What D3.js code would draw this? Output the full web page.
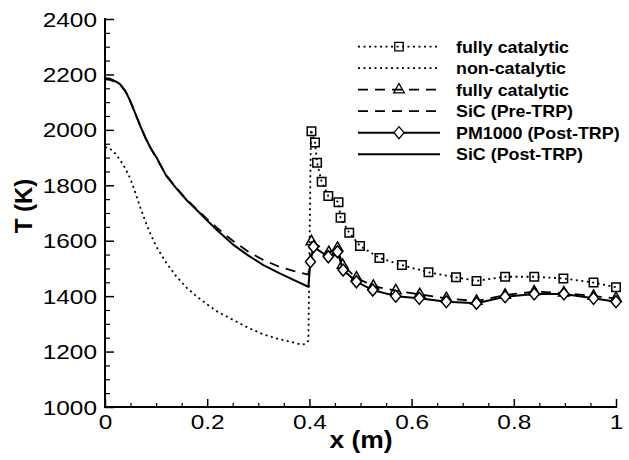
<!DOCTYPE html>
<html><head><meta charset="utf-8">
<script src="https://cdn.jsdelivr.net/npm/d3@7"></script>
<style>body{margin:0;background:#fff}text{font-family:"Liberation Sans",Arial,Helvetica,sans-serif}</style>
</head><body>
<svg id="c" width="629" height="460"></svg>
<script>
// ---------- data ----------
const xTicks = [0, 0.2, 0.4, 0.6, 0.8, 1];
const xTickLabels = ["0", "0.2", "0.4", "0.6", "0.8", "1"];
const yTicks = [1000, 1200, 1400, 1600, 1800, 2000, 2200, 2400];
const yTickLabels = ["1000", "1200", "1400", "1600", "1800", "2000", "2200", "2400"];
const xMinor = [0.05,0.1,0.15,0.25,0.3,0.35,0.45,0.5,0.55,0.65,0.7,0.75,0.85,0.9,0.95];
const yMinor = [1050,1100,1150,1250,1300,1350,1450,1500,1550,1650,1700,1750,1850,1900,1950,2050,2100,2150,2250,2300,2350];

// non-catalytic (dotted), upstream of TRP, ending at the jump
const nonCatX = [0,0.01,0.02,0.03,0.04,0.05,0.06,0.07,0.08,0.09,0.10,0.12,0.14,0.16,0.18,0.20,0.22,0.25,0.28,0.31,0.34,0.37,0.385,0.393,0.398,0.403];
const nonCatT = [1938,1932,1915,1890,1860,1822,1770,1715,1665,1620,1580,1520,1470,1430,1398,1370,1344,1315,1286,1262,1245,1232,1225,1228,1240,1995];

// fully catalytic (dotted + squares)
const fcDotX = [0.404,0.411,0.415,0.424,0.437,0.457,0.461,0.478,0.499,0.537,0.581,0.633,0.687,0.727,0.783,0.840,0.897,0.956,1.0];
const fcDotT = [1995,1954,1881,1813,1761,1739,1683,1629,1581,1538,1512,1486,1468,1455,1470,1470,1464,1449,1432];

// SiC (Pre-TRP) dashed
const sicPreX = [0,0.01,0.02,0.03,0.04,0.05,0.06,0.07,0.08,0.09,0.10,0.12,0.14,0.16,0.18,0.20,0.22,0.25,0.28,0.31,0.34,0.37,0.398,0.404];
const sicPreT = [2182,2180,2173,2162,2138,2100,2055,2010,1968,1932,1900,1836,1790,1748,1713,1678,1645,1600,1561,1530,1507,1490,1478,1597];

// fully catalytic (dashed + triangles)
const fcDashX = [0.404,0.438,0.455,0.465,0.492,0.525,0.569,0.616,0.668,0.727,0.783,0.840,0.898,0.956,1.0];
const fcDashT = [1597,1558,1573,1512,1466,1436,1420,1406,1392,1382,1404,1416,1412,1400,1392];

// SiC (Post-TRP) solid
const sicPostX = [0,0.01,0.02,0.03,0.04,0.05,0.06,0.07,0.08,0.09,0.10,0.12,0.14,0.16,0.18,0.20,0.22,0.25,0.28,0.31,0.34,0.37,0.398,0.402];
const sicPostT = [2186,2184,2176,2164,2140,2102,2056,2010,1968,1932,1903,1834,1788,1746,1710,1673,1637,1587,1547,1512,1484,1458,1434,1524];

// PM1000 (Post-TRP) solid + diamonds
const pmX = [0.402,0.408,0.437,0.455,0.466,0.492,0.524,0.569,0.615,0.668,0.727,0.783,0.840,0.898,0.956,1.0];
const pmT = [1524,1578,1542,1560,1494,1452,1422,1400,1392,1380,1374,1398,1408,1408,1392,1380];

const legendLabels = ["fully catalytic","non-catalytic","fully catalytic","SiC (Pre-TRP)","PM1000 (Post-TRP)","SiC (Post-TRP)"];

// ---------- drawing ----------
const svg = d3.select("#c");
const x = d3.scaleLinear().domain([0,1]).range([105,616]);
const y = d3.scaleLinear().domain([1000,2400]).range([407,19]);

const DOT = "2,3.5", DASH = "10,7";
const styles = {
  dot:  {dash: DOT, w: 1.8},
  dash: {dash: DASH, w: 1.8},
  solid:{dash: null, w: 2}
};
const line = d3.line().x(d => x(d[0])).y(d => y(d[1]));
const zip = (a,b) => a.map((v,i)=>[v,b[i]]);

function drawLine(xs, ts, st){
  svg.append("path").datum(zip(xs,ts)).attr("d", line)
    .attr("fill","none").attr("stroke","#000")
    .attr("stroke-width", st.w).attr("stroke-dasharray", st.dash)
    .attr("stroke-linejoin","round");
}
const sq = d3.symbol().type(d3.symbolSquare).size(72);
const tri = d3.symbol().type(d3.symbolTriangle).size(50);
function diamondPath(){ return "M0,-6L5,0L0,6L-5,0Z"; }
function drawMarkers(xs, ts, kind){
  const g = svg.append("g");
  g.selectAll("path").data(zip(xs,ts)).join("path")
    .attr("transform", d => `translate(${x(d[0])},${y(d[1])})`)
    .attr("d", kind==="sq" ? sq() : kind==="tri" ? tri() : diamondPath())
    .attr("fill", kind==="dia" ? "#fff" : "none")
    .attr("stroke","#000").attr("stroke-width",1.5);
}

drawLine(nonCatX, nonCatT, styles.dot);
drawLine(fcDotX, fcDotT, styles.dot);
drawLine(sicPreX, sicPreT, styles.dash);
drawLine(fcDashX, fcDashT, styles.dash);
drawLine(sicPostX, sicPostT, styles.solid);
drawLine(pmX, pmT, styles.solid);
drawMarkers(fcDotX, fcDotT, "sq");
drawMarkers(fcDashX, fcDashT, "tri");
drawMarkers(pmX, pmT, "dia");

// axes
const SX = 1.22, TFS = 20;
const gx = svg.append("g").attr("transform","translate(0,407)")
  .call(d3.axisBottom(x).tickValues(xTicks).tickSizeInner(-8).tickSizeOuter(0)
    .tickFormat((d,i)=>xTickLabels[i]));
gx.select(".domain").attr("stroke-width",2).attr("d","M104,0H617");
gx.selectAll(".tick line").attr("stroke-width",1.5);
gx.selectAll(".tick text").attr("y",0).attr("dy",null)
  .attr("transform",`translate(0,22) scale(${SX},1)`)
  .attr("font-size",TFS).attr("fill","#000").attr("text-anchor","middle");
svg.append("g").attr("transform","translate(0,407)")
  .call(d3.axisBottom(x).tickValues(xMinor).tickSizeInner(-4).tickSizeOuter(0).tickFormat(""))
  .call(g=>g.select(".domain").remove())
  .selectAll(".tick line").attr("stroke-width",1.2);

const gy = svg.append("g").attr("transform","translate(105,0)")
  .call(d3.axisLeft(y).tickValues(yTicks).tickSizeInner(-9).tickSizeOuter(0)
    .tickFormat((d,i)=>yTickLabels[i]));
gy.select(".domain").attr("stroke-width",2).attr("d","M0,18V408");
gy.selectAll(".tick line").attr("stroke-width",1.5);
gy.selectAll(".tick text").attr("x",0).attr("dy",null)
  .attr("transform",`translate(-8,7) scale(${SX},1)`)
  .attr("font-size",TFS).attr("fill","#000").attr("text-anchor","end");
svg.append("g").attr("transform","translate(105,0)")
  .call(d3.axisLeft(y).tickValues(yMinor).tickSizeInner(-5).tickSizeOuter(0).tickFormat(""))
  .call(g=>g.select(".domain").remove())
  .selectAll(".tick line").attr("stroke-width",1.2);

// axis titles
svg.append("text").attr("transform","translate(361,448) scale(1.15,1)")
  .attr("text-anchor","middle").attr("font-size",23).attr("font-weight","bold").text("x (m)");
svg.append("text").attr("transform","translate(32,206) rotate(-90)")
  .attr("text-anchor","middle").attr("font-size",24).attr("font-weight","bold").text("T (K)");

// legend
const legY = [46.7, 68.2, 89.7, 111.2, 132.7, 154.2];
const legStyle = [styles.dot, styles.dot, styles.dash, styles.dash, styles.solid, styles.solid];
const legMark = ["sq", null, "tri", null, "dia", null];
const lg = svg.append("g");
legendLabels.forEach((lab,i)=>{
  const yy = legY[i];
  lg.append("line").attr("x1",358).attr("x2",440).attr("y1",yy).attr("y2",yy)
    .attr("stroke","#000").attr("stroke-width",legStyle[i].w).attr("stroke-dasharray",legStyle[i].dash);
  if(legMark[i]){
    const k = legMark[i];
    lg.append("path").attr("transform",`translate(399,${yy})`)
      .attr("d", k==="sq"? sq() : k==="tri"? tri() : diamondPath())
      .attr("fill", k==="dia"?"#fff":"none").attr("stroke","#000").attr("stroke-width",1.3);
  }
  lg.append("text").attr("transform",`translate(456,${yy+6}) scale(1.05,1)`)
    .attr("font-size",17).attr("font-weight","bold").text(lab);
});
</script>
</body></html>
